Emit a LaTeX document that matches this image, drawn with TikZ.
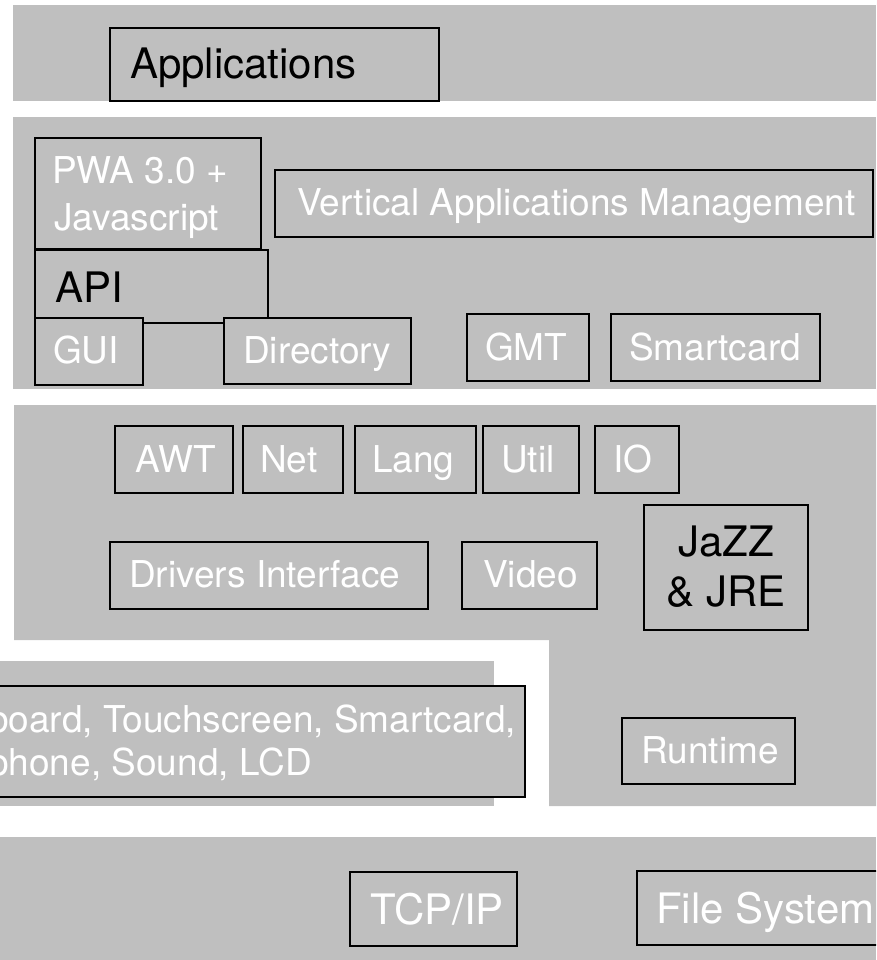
\documentclass[tikz,border=0pt]{standalone}
\usepackage{fontspec}
\setmainfont{TeX Gyre Heros}
\definecolor{layer}{RGB}{191,191,191}
\begin{document}
\begin{tikzpicture}[x=1pt,y=-1pt,
  band/.style={fill=layer,draw=none},
  box/.style={fill=layer,draw=black,line width=2.8pt},
  bigtxt/.style={font=\fontsize{42}{50}\selectfont,inner sep=0pt,anchor=base west,text=black},
  smtxt/.style={font=\fontsize{37}{47}\selectfont,inner sep=0pt,anchor=base west,text=white},
  midtxt/.style={font=\fontsize{42}{50}\selectfont,inner sep=0pt,anchor=base,text=black}]
\useasboundingbox (0,0) rectangle (876,960);
\clip (0,0) rectangle (876,960);
% layers
\path[band] (13,5) rectangle (876,101);
\path[band] (13,117) rectangle (876,389);
\path[band] (14,405) -- (876,405) -- (876,806) -- (549,806) -- (549,640) -- (14,640) -- cycle;
\path[band] (0,661) rectangle (494,806);
\path[band] (0,837) rectangle (876,960);
% boxes
\draw[box] (110,28) rectangle (439,101);
\draw[box] (35,138) rectangle (261,249);
\draw[box] (35,250) rectangle (268,323);
\draw[box] (35,318) rectangle (143,385);
\draw[box] (224,318) rectangle (411,384);
\draw[box] (275,170) rectangle (873,237);
\draw[box] (467,314) rectangle (589,381);
\draw[box] (611,314) rectangle (820,381);
\draw[box] (115,426) rectangle (233,493);
\draw[box] (243,426) rectangle (343,493);
\draw[box] (355,426) rectangle (476,493);
\draw[box] (483,426) rectangle (579,493);
\draw[box] (595,426) rectangle (679,493);
\draw[box] (110,542) rectangle (428,609);
\draw[box] (462,542) rectangle (597,609);
\draw[box] (644,505) rectangle (808,630);
\draw[box] (622,718) rectangle (795,784);
\draw[box] (-20,686) rectangle (525,797);
\draw[box] (350,872) rectangle (517,946);
\draw[box] (637,871) rectangle (900,945);
% texts
\node[bigtxt] (tapps) at (130,79) {Applications};
\node[smtxt] (tpwa1) at (52,183) {PWA 3.0 +};
\node[smtxt] (tpwa2) at (54,230) {Javascript};
\node[smtxt] (tvam) at (297,215) {Vertical Applications Management};
\node[bigtxt] (tapi) at (55,302) {API};
\node[smtxt] (tgui) at (53,363) {GUI};
\node[smtxt] (tdir) at (243,363) {Directory};
\node[smtxt] (tgmt) at (485,360) {GMT};
\node[smtxt] (tsmc) at (629,360) {Smartcard};
\node[smtxt] (tawt) at (135,472) {AWT};
\node[smtxt] (tnet) at (260,472) {Net};
\node[smtxt] (tlang) at (372,472) {Lang};
\node[smtxt] (tutil) at (501,472) {Util};
\node[smtxt] (tio) at (613,472) {IO};
\node[smtxt] (tdrv) at (129,587) {Drivers Interface};
\node[smtxt] (tvid) at (483,587) {Video};
\node[midtxt] (tjazz1) at (726,556) {JaZZ};
\node[midtxt] (tjazz2) at (726,606) {\& JRE};
\node[smtxt] (trun) at (641,763) {Runtime};
\node[smtxt] (tkbd1) at (-12,732) {board, Touchscreen, Smartcard,};
\node[smtxt] (tkbd2) at (-12,775) {phone, Sound, LCD};
\node[bigtxt,text=white] (ttcp) at (370,924) {TCP/IP};
\node[bigtxt,text=white] (tfs) at (656,923) {File System};
\end{tikzpicture}
\end{document}
